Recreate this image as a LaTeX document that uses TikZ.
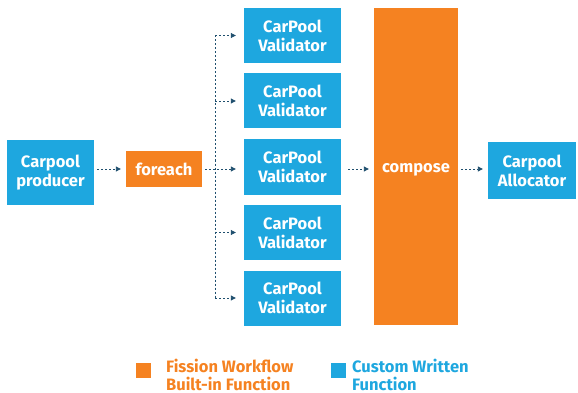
\documentclass[tikz,border=0pt]{standalone}
\usepackage{fontspec}
\setmainfont{Fira Sans}
\usetikzlibrary{arrows.meta}
\definecolor{cblue}{HTML}{1EA7DF}
\definecolor{corange}{HTML}{F58221}
\definecolor{carrow}{HTML}{1F4F6E}
\tikzset{
  bluebox/.style={fill=cblue, text=white, font=\bfseries\fontsize{16.5}{19}\selectfont, align=center, inner sep=0pt},
  orangebox/.style={fill=corange, text=white, font=\bfseries\fontsize{16.5}{19}\selectfont, align=center, inner sep=0pt},
  flow/.style={draw=carrow, line width=0.9pt, dash pattern=on 2pt off 2pt, -{Triangle[length=5pt,width=5pt]}},
  flowline/.style={draw=carrow, line width=0.9pt, dash pattern=on 2pt off 2pt},
  legtext/.style={font=\bfseries\fontsize{16.5}{18}\selectfont, align=left, anchor=west, inner sep=0pt}
}
\begin{document}
\begin{tikzpicture}[x=1pt,y=-1pt]
\useasboundingbox (0,0) rectangle (578,393);
\node[bluebox, minimum width=87pt, minimum height=65pt] (prod) at (50.5,172.5) {Carpool\\producer};
\node[orangebox, minimum width=76pt, minimum height=36pt] (fe) at (164,169) {foreach};
\foreach \i/\y in {1/35.5,2/101,3/167,4/232.5,5/298}{
  \node[bluebox, minimum width=97pt, minimum height=55pt] (v\i) at (292.5,\y) {CarPool\\Validator};
}
\node[orangebox, minimum width=84pt, minimum height=317pt] (comp) at (416,166.5) {};
\node[text=white, font=\bfseries\fontsize{16.5}{19}\selectfont, inner sep=0pt] (complabel) at (416,170) {compose};
\node[bluebox, minimum width=88pt, minimum height=57pt] (alloc) at (532,170.5) {Carpool\\Allocator};
\coordinate (top) at (215,35.5);
\coordinate (bot) at (215,298);
\draw[flowline] (top) -- (bot);
\foreach \i in {1,2,4,5}{
  \draw[flow] (v\i.west -| top) -- ([xshift=-8pt]v\i.west);
}
\draw[flow] ([xshift=3pt]prod.east |- fe.east) -- ([xshift=-5pt]fe.west);
\draw[flow] ([xshift=3pt]fe.east) -- ([xshift=-8pt]v3.west |- fe.east);
\draw[flow] ([xshift=7pt]v3.east |- fe.east) -- ([xshift=-5pt]comp.west |- fe.east);
\draw[flow] ([xshift=3pt]comp.east |- fe.east) -- ([xshift=-5pt]alloc.west |- fe.east);
\node[fill=corange, minimum size=15pt, inner sep=0pt] (lo) at (143.5,370.5) {};
\node[legtext, text=corange] (lot) at (166,375) {Fission Workflow\\Built-in Function};
\node[fill=cblue, minimum size=15pt, inner sep=0pt] (lb) at (338.5,370.5) {};
\node[legtext, text=cblue] (lbt) at (352,375) {Custom Written\\Function};
\end{tikzpicture}
\end{document}
